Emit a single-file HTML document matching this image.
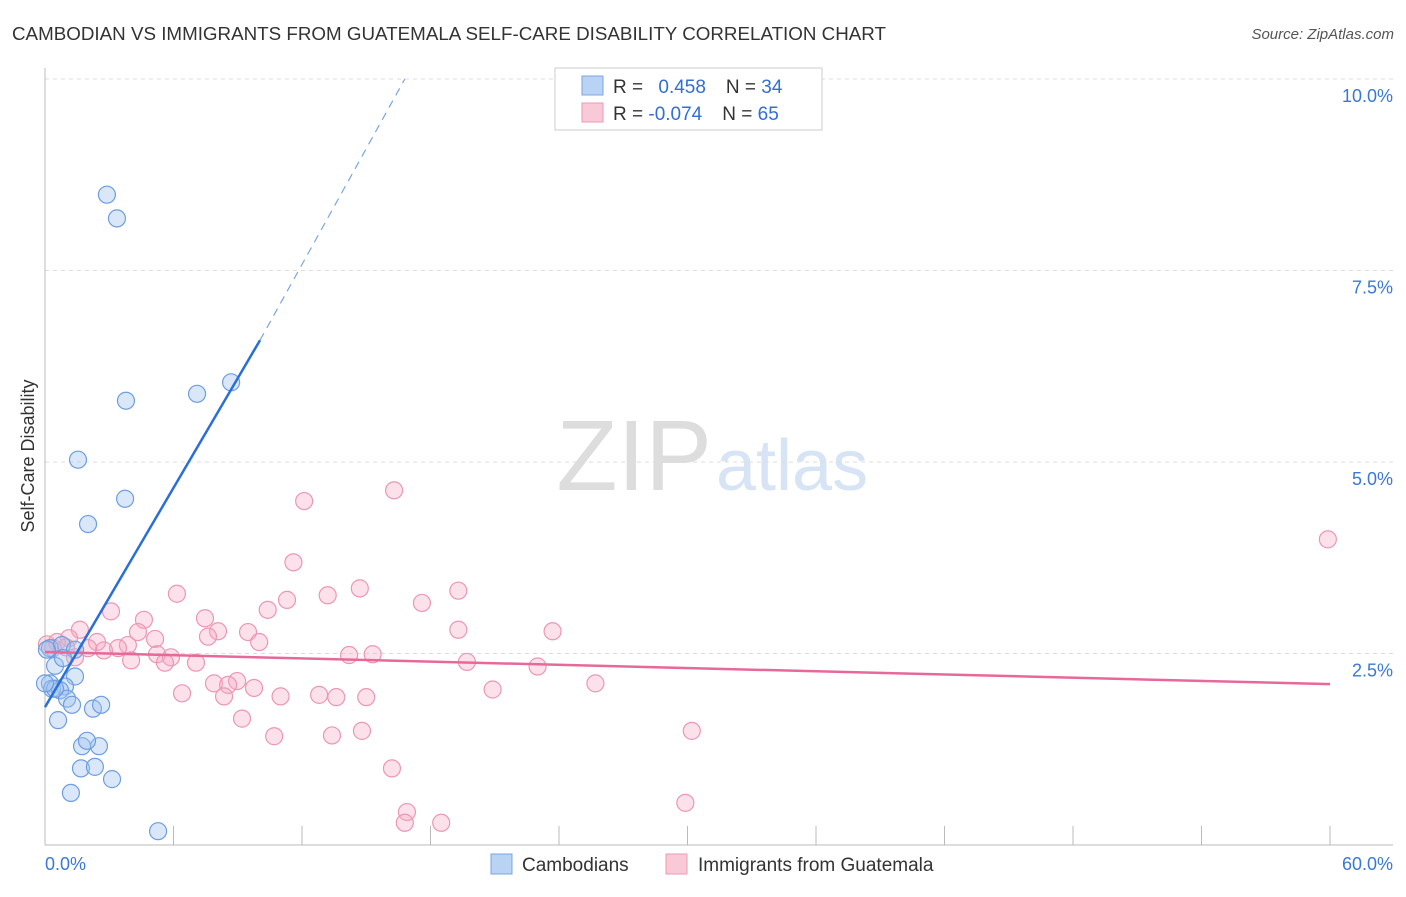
<!DOCTYPE html>
<html><head><meta charset="utf-8"><style>
body{margin:0;background:#fff;font-family:"Liberation Sans",sans-serif}
svg text{font-family:"Liberation Sans",sans-serif}
</style></head><body>
<svg id="c" width="1406" height="892" xmlns="http://www.w3.org/2000/svg">
<text x="12" y="40" font-size="18" fill="#333" textLength="874" lengthAdjust="spacingAndGlyphs">CAMBODIAN VS IMMIGRANTS FROM GUATEMALA SELF-CARE DISABILITY CORRELATION CHART</text>
<text x="1394" y="39" font-size="15" fill="#555" text-anchor="end" font-style="italic">Source: ZipAtlas.com</text>
<text x="712" y="490" font-size="100" fill="#ddd" text-anchor="end" font-family="Liberation Serif">ZIP</text>
<text x="716" y="490" font-size="72" fill="#d6e4f5">atlas</text>
<text transform="translate(34,456) rotate(-90)" font-size="18" fill="#333" text-anchor="middle">Self-Care Disability</text>
<g id="grid"></g><g id="marks"></g>
<rect x="555" y="68" width="267" height="62" fill="#fff" stroke="#ccc"/>
<rect x="582" y="76" width="21" height="19" fill="#b9d3f5" stroke="#7aa5e0"/>
<rect x="582" y="103" width="21" height="19" fill="#f9c9d8" stroke="#ec9ab5"/>
<text x="613" y="93" font-size="19" fill="#333">R = <tspan fill="#2f6fd6" dx="10">0.458</tspan><tspan dx="20" fill="#333">N = </tspan><tspan fill="#2f6fd6">34</tspan></text>
<text x="613" y="120" font-size="19" fill="#333">R = <tspan fill="#2f6fd6">-0.074</tspan><tspan dx="20" fill="#333">N = </tspan><tspan fill="#2f6fd6">65</tspan></text>
<rect x="491" y="854" width="21" height="20" fill="#b9d3f5" stroke="#7aa5e0"/>
<text x="522" y="871" font-size="19" fill="#333">Cambodians</text>
<rect x="666" y="854" width="21" height="20" fill="#f9c9d8" stroke="#ec9ab5"/>
<text x="698" y="871" font-size="19" fill="#333">Immigrants from Guatemala</text>
</svg>
<script>
const yTicks=[2.5,5,7.5,10];
const yTickLabels=["2.5%","5.0%","7.5%","10.0%"];
const xTickCount=10;
const blueX=[2.89,3.36,3.78,7.10,8.69,1.54,3.74,2.01,0.23,0.79,1.40,0.47,0.23,1.40,0.93,0.33,0.70,1.03,1.26,2.24,2.62,0.61,1.73,2.52,1.96,1.68,2.33,3.13,1.21,5.28,0.09,0.47,0.84,0.0];
const blueY=[8.49,8.18,5.80,5.89,6.04,5.03,4.52,4.19,2.57,2.61,2.55,2.34,2.11,2.20,2.07,2.04,2.02,1.91,1.83,1.78,1.83,1.63,1.29,1.29,1.36,1.00,1.02,0.86,0.68,0.18,2.55,2.04,2.44,2.11];
const pinkX=[59.9,16.3,12.1,11.6,14.7,19.3,6.16,17.6,13.2,11.3,10.4,7.47,4.62,3.08,19.3,23.7,8.08,4.34,9.48,1.63,1.12,0.09,0.56,2.43,3.87,5.14,7.61,10.0,3.41,2.75,2.01,0.98,0.37,1.40,5.23,5.88,4.02,5.60,14.2,15.3,7.05,19.7,23.0,8.97,7.89,8.55,9.76,25.7,20.9,6.40,8.36,11.0,12.8,13.6,15.0,9.20,10.7,13.4,14.8,30.2,16.2,16.9,16.8,18.5,29.9];
const pinkY=[3.99,4.63,4.49,3.69,3.35,3.32,3.28,3.16,3.26,3.20,3.07,2.96,2.94,3.05,2.81,2.79,2.79,2.78,2.78,2.81,2.70,2.62,2.65,2.65,2.61,2.69,2.72,2.65,2.57,2.54,2.57,2.58,2.57,2.45,2.49,2.45,2.41,2.38,2.48,2.49,2.38,2.39,2.33,2.14,2.11,2.09,2.05,2.11,2.03,1.98,1.94,1.94,1.96,1.93,1.93,1.65,1.42,1.43,1.49,1.49,1.00,0.43,0.29,0.29,0.55];
const blueLine=[[0,1.80],[10.04,6.59]];
const blueDash=[[10.04,6.59],[16.8,10.0]];
const pinkLine=[[0,2.52],[60,2.10]];
const X0=45,X1=1330,Y0=845,YPX=191.5/2.5;
const sx=v=>X0+v/60*(X1-X0), sy=v=>Y0-v*YPX;
const NS="http://www.w3.org/2000/svg";
function mk(t,a,p){const e=document.createElementNS(NS,t);for(const k in a)e.setAttribute(k,a[k]);p.appendChild(e);return e;}
const g=document.getElementById('grid'),m=document.getElementById('marks');
yTicks.forEach((t,i)=>{
 const l=mk('line',{x1:45,x2:1393,y1:sy(t),y2:sy(t),stroke:'#ddd','stroke-dasharray':'4,4'},g);
 
 
 const tx=mk('text',{x:1393,y:sy(t)+23,'font-size':18,fill:'#3a78d8','text-anchor':'end'},g);
 tx.textContent=yTickLabels[i];
 
 
});
let ax=mk('line',{x1:45,x2:45,y1:68,y2:845,stroke:'#bbb'},g);


ax=mk('line',{x1:45,x2:1393,y1:845,y2:845,stroke:'#bbb'},g);


for(let i=1;i<=xTickCount;i++){const x=sx(i*60/xTickCount);const t=mk('line',{x1:x,x2:x,y1:826,y2:845,stroke:'#bbb'},g);
 
 }
[["0.0%",45,'start'],["60.0%",1393,'end']].forEach(a=>{const t=mk('text',{x:a[1],y:870,'font-size':18,fill:'#3a78d8','text-anchor':a[2]},g);t.textContent=a[0];
 
 });
pinkX.forEach((x,i)=>{const c=mk('circle',{cx:sx(x),cy:sy(pinkY[i]),r:8.5,fill:'rgba(246,170,195,0.35)',stroke:'#eb97b3','stroke-width':1.2},m);
 
 });
blueX.forEach((x,i)=>{const c=mk('circle',{cx:sx(x),cy:sy(blueY[i]),r:8.5,fill:'rgba(160,195,240,0.4)',stroke:'#6d9ee0','stroke-width':1.2},m);
 
 });
let ln=mk('line',{x1:sx(pinkLine[0][0]),y1:sy(pinkLine[0][1]),x2:sx(pinkLine[1][0]),y2:sy(pinkLine[1][1]),stroke:'#e8689a','stroke-width':2.5},m);


ln=mk('line',{x1:sx(blueLine[0][0]),y1:sy(blueLine[0][1]),x2:sx(blueLine[1][0]),y2:sy(blueLine[1][1]),stroke:'#2a6fd6','stroke-width':2.5},m);


ln=mk('line',{x1:sx(blueDash[0][0]),y1:sy(blueDash[0][1]),x2:sx(blueDash[1][0]),y2:sy(blueDash[1][1]),stroke:'#7aa5e0','stroke-width':1.2,'stroke-dasharray':'8,6'},m);


</script>
</body></html>
